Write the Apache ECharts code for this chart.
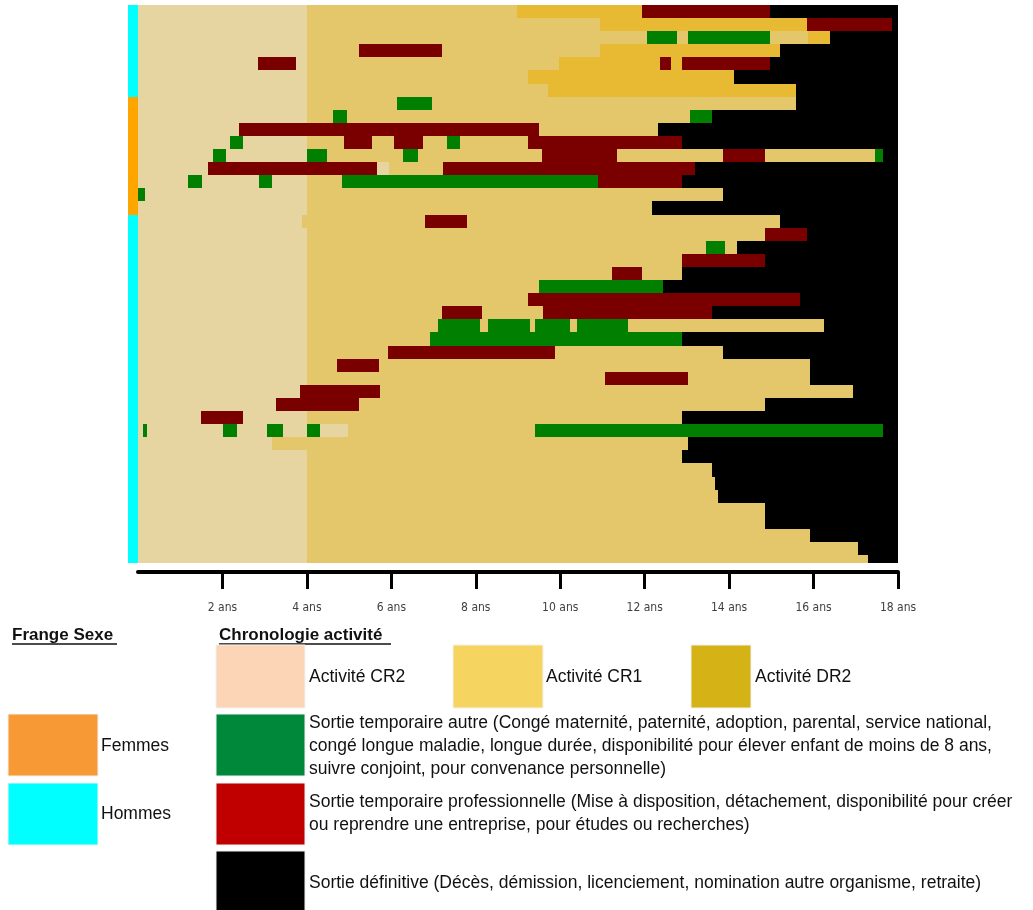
<!DOCTYPE html>
<html>
<head>
<meta charset="utf-8">
<script src="https://cdn.jsdelivr.net/npm/echarts@6/dist/echarts.min.js"></script>
<style>
html,body{margin:0;padding:0;background:#fff;}
#chart{width:1033px;height:910px;}
</style>
</head>
<body>
<div id="chart"></div>
<script>
// ---- DATA (years since entry; row = individual) ----
const sexe = ['H','H','H','H','H','H','H',
  'F','F','F','F','F','F','F','F','F',
  'H','H','H','H','H','H','H','H','H','H','H','H','H','H','H','H','H','H','H','H','H','H','H','H','H','H','H'];

const ticks = [2,4,6,8,10,12,14,16,18];

const activiteCR2 = [
  [0,0,4],[1,0,4],[2,0,4],[3,0,4],[4,0,2.84],[4,3.74,4],[5,0,4],[6,0,4],[7,0,4],[8,0,4],
  [9,0,2.39],[10,0,2.18],[10,2.49,4],[11,0,1.78],[11,2.08,4],[12,0,1.66],[12,5.66,5.95],
  [13,0,1.18],[13,1.52,2.87],[13,3.17,4],[14,0.17,4],[15,0,4],[16,0,3.88],[17,0,4],[18,0,4],
  [19,0,4],[20,0,4],[21,0,4],[22,0,4],[23,0,4],[24,0,4],[25,0,4],[26,0,4],[27,0,4],[28,0,4],
  [29,0,3.84],[30,0,3.27],[31,0,1.49],[31,2.49,4],[32,0,0.13],[32,0.21,2.01],[32,2.35,3.05],
  [32,3.43,4],[32,4.31,4.98],[33,0,3.17],[34,0,4],[35,0,4],[36,0,4],[37,0,4],[38,0,4],
  [39,0,4],[40,0,4],[41,0,4],[42,0,4]
];

const activiteCR1 = [
  [0,4,8.98],[1,4,10.94],[2,4,12.06],[2,12.77,13.03],[2,14.97,15.87],[3,4,5.23],[3,7.21,10.94],
  [4,4,9.97],[5,4,9.24],[6,4,9.71],[7,4,6.13],[7,6.96,15.58],[8,4,4.62],[8,4.95,13.07],
  [9,9.50,12.32],[10,4,4.88],[10,5.54,6.06],[10,6.75,7.32],[10,7.63,9.24],[11,4.48,6.28],
  [11,6.63,9.56],[11,11.34,13.86],[11,14.85,17.45],[12,5.95,7.22],[13,4,4.83],[14,4,13.86],
  [15,4,12.17],[16,3.88,6.80],[16,7.79,15.21],[17,4,14.85],[18,4,13.45],[18,13.90,14.19],
  [19,4,12.88],[20,4,11.23],[20,11.94,12.88],[21,4,9.50],[22,4,9.24],[23,4,7.20],[23,8.15,9.59],
  [24,4,7.11],[24,8.10,8.29],[24,9.28,9.40],[24,10.23,10.40],[24,11.61,16.25],[25,4,6.92],
  [26,4,5.92],[26,9.88,13.86],[27,4,4.72],[27,5.71,15.92],[28,4,11.06],[28,13.03,15.92],
  [29,5.72,16.93],[30,5.24,14.85],[31,4,12.88],[32,4.98,9.40],[33,3.17,13.03],[34,4,12.88],
  [35,4,13.59],[36,4,13.67],[37,4,13.74],[38,4,14.85],[39,4,14.85],[40,4,15.92],[41,4,17.05],
  [42,4,17.29]
];

const activiteDR2 = [
  [0,8.98,11.94],[1,10.94,15.84],[2,15.87,16.39],[3,10.94,15.21],[4,9.97,12.36],[4,12.62,12.88],
  [5,9.24,14.12],[6,9.71,15.58]
];

const sortieAutre = [
  [2,12.06,12.77],[2,13.03,14.97],[7,6.13,6.96],[8,4.62,4.95],[8,13.07,13.59],[10,2.18,2.49],
  [10,7.32,7.63],[11,1.78,2.08],[11,4,4.48],[11,6.28,6.63],[11,17.45,17.65],[13,1.18,1.52],
  [13,2.87,3.17],[13,4.83,10.90],[14,0,0.17],[18,13.45,13.90],[21,9.50,12.43],[24,7.11,8.10],
  [24,8.29,9.28],[24,9.40,10.23],[24,10.40,11.61],[25,6.92,12.88],[32,0.13,0.21],[32,2.01,2.35],
  [32,3.05,3.43],[32,4,4.31],[32,9.40,17.65]
];

const sortiePro = [
  [0,11.94,14.97],[1,15.84,17.86],[3,5.23,7.21],[4,2.84,3.74],[4,12.36,12.62],[4,12.88,14.97],
  [9,2.39,9.50],[10,4.88,5.54],[10,6.06,6.75],[10,9.24,12.88],[11,9.56,11.34],[11,13.86,14.85],
  [12,1.66,5.66],[12,7.22,13.19],[13,10.90,12.88],[16,6.80,7.79],[17,14.85,15.84],[19,12.88,14.85],
  [20,11.23,11.94],[22,9.24,15.68],[23,7.20,8.15],[23,9.59,13.59],[26,5.92,9.88],[27,4.72,5.71],
  [28,11.06,13.03],[29,3.84,5.72],[30,3.27,5.24],[31,1.49,2.49]
];

const sortieDefinitive = [
  [0,14.97,18],[1,17.86,18],[2,16.39,18],[3,15.21,18],[4,14.97,18],[5,14.12,18],[6,15.58,18],
  [7,15.58,18],[8,13.59,18],[9,12.32,18],[10,12.88,18],[11,17.65,18],[12,13.19,18],[13,12.88,18],
  [14,13.86,18],[15,12.17,18],[16,15.21,18],[17,15.84,18],[18,14.19,18],[19,14.85,18],[20,12.88,18],
  [21,12.43,18],[22,15.68,18],[23,13.59,18],[24,16.25,18],[25,12.88,18],[26,13.86,18],[27,15.92,18],
  [28,15.92,18],[29,16.93,18],[30,14.85,18],[31,12.88,18],[32,17.65,18],[33,13.03,18],[34,12.88,18],
  [35,13.59,18],[36,13.67,18],[37,13.74,18],[38,14.85,18],[39,14.85,18],[40,15.92,18],[41,17.05,18],
  [42,17.29,18]
];

// ---- RENDERING ----
const chart = echarts.init(document.getElementById('chart'));

function segRenderer(color) {
  return function (params, api) {
    const r = api.value(0), a = api.value(1), b = api.value(2);
    const p0 = api.coord([a, r]);
    const p1 = api.coord([b, r + 1]);
    const x0 = Math.round(Math.min(p0[0], p1[0])), x1 = Math.round(Math.max(p0[0], p1[0]));
    const y0 = Math.round(Math.min(p0[1], p1[1])), y1 = Math.round(Math.max(p0[1], p1[1]));
    const cs = params.coordSys;
    const rect = echarts.graphic.clipRectByRect(
      { x: x0, y: y0, width: x1 - x0, height: y1 - y0 },
      { x: cs.x, y: cs.y, width: cs.width, height: cs.height });
    if (!rect) return null;
    return { type: 'rect', shape: rect, style: { fill: color } };
  };
}

function segSeries(name, data, color) {
  return {
    name: name, type: 'custom', xAxisIndex: 0, yAxisIndex: 0,
    renderItem: segRenderer(color), data: data,
    encode: { x: [1, 2], y: 0 }, silent: true, animation: false
  };
}

const fringeData = sexe.map((s, i) => [i, s === 'F' ? 1 : 0]);

const TXT = "'Liberation Sans', Arial, sans-serif";
const legendFont = '17.5px ' + TXT;

function txt(x, y, text, font) {
  return { type: 'text', x: x, y: y, style: { text: text, font: font || legendFont, fill: '#111',
    textAlign: 'left', textVerticalAlign: 'middle', verticalAlign: 'middle', lineHeight: 23 } };
}
function box(x, y, w, h, color) {
  return { type: 'rect', shape: { x: x, y: y, width: w, height: h },
    style: { fill: color, stroke: '#f2f2f2', lineWidth: 1 } };
}

const option = {
  backgroundColor: '#fff',
  animation: false,
  grid: [
    { left: 138, top: 5, width: 760, height: 558 },
    { left: 128, top: 5, width: 10, height: 558 }
  ],
  xAxis: [
    {
      type: 'value', gridIndex: 0, position: 'bottom', min: 0, max: 18, interval: 2, offset: 9,
      axisLine: { show: true, onZero: false, lineStyle: { color: '#000', width: 4 } },
      axisTick: { show: true, inside: false, length: 17, lineStyle: { color: '#000', width: 3 }, customValues: ticks },
      axisLabel: { customValues: ticks, formatter: v => v + ' ans', margin: 30, fontSize: 12,
        color: '#404040', fontFamily: "'Liberation Sans Narrow', 'DejaVu Sans Condensed', sans-serif" },
      splitLine: { show: false }
    },
    { type: 'value', gridIndex: 1, min: 0, max: 1, show: false }
  ],
  yAxis: [
    { type: 'value', gridIndex: 0, min: 0, max: 42.6, inverse: true, show: false },
    { type: 'value', gridIndex: 1, min: 0, max: 42.6, inverse: true, show: false }
  ],
  series: [
    segSeries('Activité CR2', activiteCR2, '#E6D4A1'),
    segSeries('Activité CR1', activiteCR1, '#E4C66B'),
    segSeries('Activité DR2', activiteDR2, '#E8B933'),
    segSeries('Sortie temporaire autre', sortieAutre, '#007F00'),
    segSeries('Sortie temporaire professionnelle', sortiePro, '#7A0000'),
    segSeries('Sortie définitive', sortieDefinitive, '#000000'),
    {
      name: 'Frange Sexe', type: 'custom', xAxisIndex: 1, yAxisIndex: 1, silent: true,
      data: fringeData, encode: { y: 0 },
      renderItem: function (params, api) {
        const r = api.value(0), f = api.value(1);
        const p0 = api.coord([0, r]), p1 = api.coord([1, r + 1]);
        const cs = params.coordSys;
        const rect = echarts.graphic.clipRectByRect(
          { x: Math.round(p0[0]), y: Math.round(p0[1]), width: Math.round(p1[0]) - Math.round(p0[0]), height: Math.round(p1[1]) - Math.round(p0[1]) },
          { x: cs.x, y: cs.y, width: cs.width, height: cs.height });
        if (!rect) return null;
        return { type: 'rect', shape: rect, style: { fill: f === 1 ? '#FFA500' : '#00FFFF' } };
      }
    }
  ],
  graphic: [
    txt(12, 635, 'Frange Sexe', 'bold 17px ' + TXT),
    { type: 'line', shape: { x1: 12, y1: 644, x2: 117, y2: 644 }, style: { stroke: '#111', lineWidth: 1.5 } },
    txt(219, 635, 'Chronologie activité', 'bold 17px ' + TXT),
    { type: 'line', shape: { x1: 219, y1: 644, x2: 391, y2: 644 }, style: { stroke: '#111', lineWidth: 1.5 } },

    box(216, 645, 89, 63, '#FBD5B5'), txt(309, 677, 'Activité CR2'),
    box(453, 645, 90, 63, '#F5D55F'), txt(546, 677, 'Activité CR1'),
    box(691, 645, 60, 63, '#D5B215'), txt(755, 677, 'Activité DR2'),

    box(8, 714, 90, 62, '#F79A35'), txt(101, 746, 'Femmes'),
    box(8, 783, 90, 62, '#00FFFF'), txt(101, 814, 'Hommes'),

    box(216, 714, 89, 62, '#00883A'),
    txt(309, 746, 'Sortie temporaire autre (Congé maternité, paternité, adoption, parental, service national,\ncongé longue maladie, longue durée, disponibilité pour élever enfant de moins de 8 ans,\nsuivre conjoint, pour convenance personnelle)'),
    box(216, 783, 89, 62, '#C00000'),
    txt(309, 814, 'Sortie temporaire professionnelle (Mise à disposition, détachement, disponibilité pour créer\nou reprendre une entreprise, pour études ou recherches)'),
    box(216, 851, 89, 60, '#000000'),
    txt(309, 883, 'Sortie définitive (Décès, démission, licenciement, nomination autre organisme, retraite)')
  ]
};

chart.setOption(option);
</script>
</body>
</html>
